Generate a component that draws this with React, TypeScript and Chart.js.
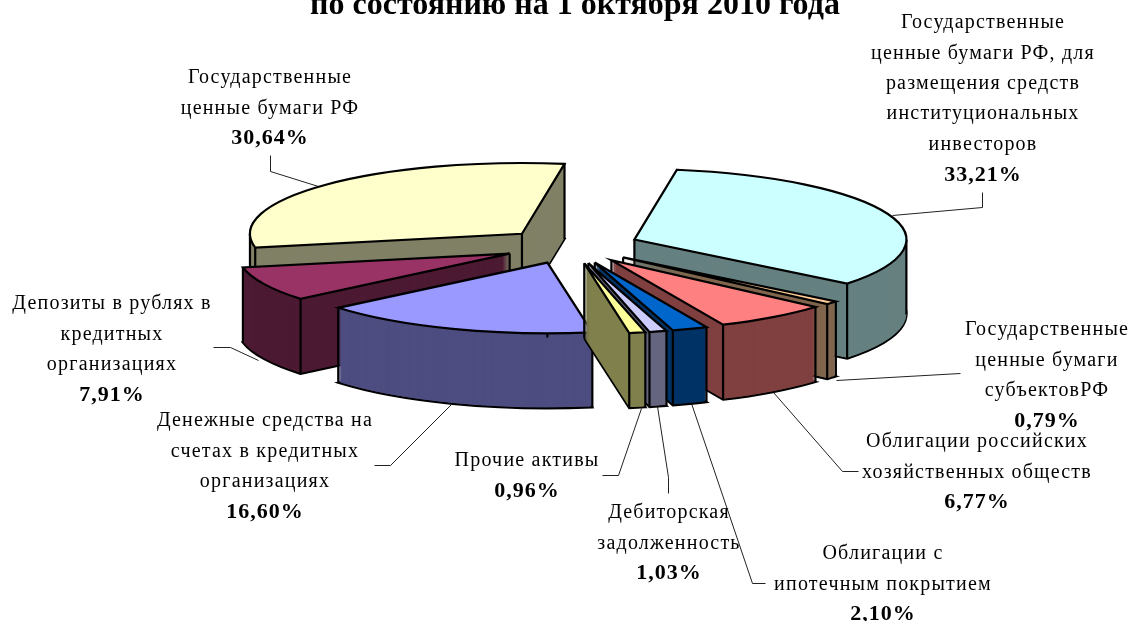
import React, { useEffect, useRef } from "react";
import { Chart, registerables } from "chart.js";

Chart.register(...registerables);

const titleText = "по состоянию на 1 октября 2010 года";
const categories = [
  ["Государственные", "ценные бумаги РФ, для", "размещения средств", "институциональных", "инвесторов"],
  ["Государственные", "ценные бумаги", "субъектовРФ"],
  ["Облигации российских", "хозяйственных обществ"],
  ["Облигации с", "ипотечным покрытием"],
  ["Дебиторская", "задолженность"],
  ["Прочие активы"],
  ["Денежные средства на", "счетах в кредитных", "организациях"],
  ["Депозиты в рублях в", "кредитных", "организациях"],
  ["Государственные", "ценные бумаги РФ"],
];
const shares = [33.21, 0.79, 6.77, 2.1, 1.03, 0.96, 16.6, 7.91, 30.64];
const shareLabels = ["33,21%", "0,79%", "6,77%", "2,10%", "1,03%", "0,96%", "16,60%", "7,91%", "30,64%"];
const topColors = ["#CCFFFF", "#FFCC99", "#FF8080", "#0066CC", "#CCCCFF", "#FFFF99", "#9999FF", "#993366", "#FFFFCC"];
const sideColors = ["#668080", "#80664D", "#804040", "#003366", "#666680", "#80804D", "#4D4D80", "#4D1A33", "#808066"];

// layout of the 3D projection
const CENTER = { x: 571, y: 246 };
const RADIUS = 272;
const SQUASH = 0.26;
const DEPTH = 75;
const EXPLODE = 68;
const ROTATION = 9;
const EDGE = 2.2;

// label block layout: centre x, first line centre y, leader polyline
const LINE = 30.4;
const labelX = [983, 1047, 977, 883, 669, 527, 265, 112, 270];
const labelY = [23, 330, 442, 554, 513, 461, 421, 304, 78];
const leaders = [
  [[982, 192], [982, 207], [892, 215]],
  [[960, 373], [836, 380]],
  [[773, 392], [842, 471], [858, 471]],
  [[691, 403], [752, 583], [765, 583]],
  [[657, 406], [668, 477], [668, 493]],
  [[641, 408], [618, 475], [602, 475]],
  [[451, 404], [390, 465], [374, 465]],
  [[213, 347], [230, 347], [258, 360]],
  [[270, 155], [270, 171], [318, 186]],
];

const pie3d = {
  id: "pie3d",
  beforeDatasetsDraw(chart: any) {
    const ctx = chart.ctx;
    const arcs = chart.getDatasetMeta(0).data as any[];
    const origStroke = ctx.stroke;
    // keep the pen round although the context is squashed
    ctx.stroke = function () {
      const t = ctx.getTransform();
      ctx.resetTransform();
      origStroke.call(ctx);
      ctx.setTransform(t);
    };
    const place = (arc: any, mid: number, dy: number) => {
      ctx.translate(CENTER.x + EXPLODE * Math.cos(mid), CENTER.y + EXPLODE * SQUASH * Math.sin(mid) + dy);
      ctx.scale(1, SQUASH);
      ctx.translate(-arc.x, -arc.y);
    };
    // leaders go under the slices, so they end exactly on the walls
    ctx.save();
    ctx.strokeStyle = "#222";
    ctx.lineWidth = 1;
    for (const pts of leaders) {
      ctx.beginPath();
      pts.forEach(([x, y], k) => (k ? ctx.lineTo(x + 0.5, y + 0.5) : ctx.moveTo(x + 0.5, y + 0.5)));
      origStroke.call(ctx);
    }
    ctx.restore();

    const order = arcs
      .map((arc, i) => ({ arc, i, mid: (arc.startAngle + arc.endAngle) / 2 }))
      .sort((a, b) => Math.sin(a.mid) - Math.sin(b.mid));
    for (const { arc, i, mid } of order) {
      const base = arc.options;
      // bottom face with outline
      arc.options = { ...base, backgroundColor: sideColors[i], borderColor: "#000", borderWidth: EDGE, borderJoinStyle: "miter" };
      ctx.save();
      place(arc, mid, DEPTH);
      arc.draw(ctx);
      ctx.restore();
      // wall body
      arc.options = { ...base, backgroundColor: sideColors[i], borderWidth: 0 };
      for (let d = DEPTH - 1; d >= 0; d--) {
        ctx.save();
        place(arc, mid, d);
        arc.draw(ctx);
        ctx.restore();
      }
      // vertical edges
      const ox = CENTER.x + EXPLODE * Math.cos(mid);
      const oy = CENTER.y + EXPLODE * SQUASH * Math.sin(mid);
      const verts: [number, number][] = [
        [ox, oy],
        [ox + RADIUS * Math.cos(arc.startAngle), oy + RADIUS * SQUASH * Math.sin(arc.startAngle)],
        [ox + RADIUS * Math.cos(arc.endAngle), oy + RADIUS * SQUASH * Math.sin(arc.endAngle)],
      ];
      for (const a of [0, Math.PI, 2 * Math.PI, 3 * Math.PI]) {
        if (a > arc.startAngle && a < arc.endAngle) {
          verts.push([ox + RADIUS * Math.cos(a), oy + RADIUS * SQUASH * Math.sin(a)]);
        }
      }
      ctx.save();
      ctx.strokeStyle = "#000";
      ctx.lineWidth = EDGE;
      ctx.beginPath();
      for (const [vx, vy] of verts) {
        ctx.moveTo(vx, vy);
        ctx.lineTo(vx, vy + DEPTH);
      }
      origStroke.call(ctx);
      ctx.restore();
      // top face
      arc.options = { ...base, backgroundColor: topColors[i], borderColor: "#000", borderWidth: EDGE, borderJoinStyle: "miter" };
      ctx.save();
      place(arc, mid, 0);
      arc.draw(ctx);
      ctx.restore();
      arc.options = base;
    }
    ctx.stroke = origStroke;

    // labels
    ctx.save();
    ctx.fillStyle = "#000";
    ctx.textAlign = "center";
    ctx.textBaseline = "middle";
    categories.forEach((lines, i) => {
      ctx.font = '20px "Liberation Serif"';
      ctx.letterSpacing = "1.2px";
      lines.forEach((text, k) => ctx.fillText(text, labelX[i], labelY[i] + k * LINE));
      ctx.font = 'bold 22px "Liberation Serif"';
      ctx.letterSpacing = "1px";
      ctx.fillText(shareLabels[i], labelX[i], labelY[i] + lines.length * LINE);
    });
    ctx.restore();
    return false;
  },
  beforeDatasetDraw() {
    return false;
  },
};

export default function App() {
  const ref = useRef<HTMLCanvasElement>(null);
  useEffect(() => {
    document.body.style.margin = "0";
    const chart = new Chart(ref.current!, {
      type: "pie",
      data: {
        labels: categories.map((c) => c.join(" ")),
        datasets: [{ data: shares, backgroundColor: topColors, borderColor: "#000", borderWidth: 2 }],
      },
      options: {
        responsive: false,
        animation: false,
        rotation: ROTATION,
        radius: RADIUS,
        layout: { padding: { left: 19 } },
        plugins: {
          legend: { display: false },
          tooltip: { enabled: false },
          title: {
            display: true,
            text: titleText,
            color: "#000",
            font: { family: '"Liberation Serif"', size: 32, weight: "bold" },
            padding: { top: -13, bottom: 0 },
          },
        },
      },
      plugins: [pie3d],
    } as any);
    return () => chart.destroy();
  }, []);
  return <canvas ref={ref} width={1131} height={621} style={{ display: "block" }} />;
}
